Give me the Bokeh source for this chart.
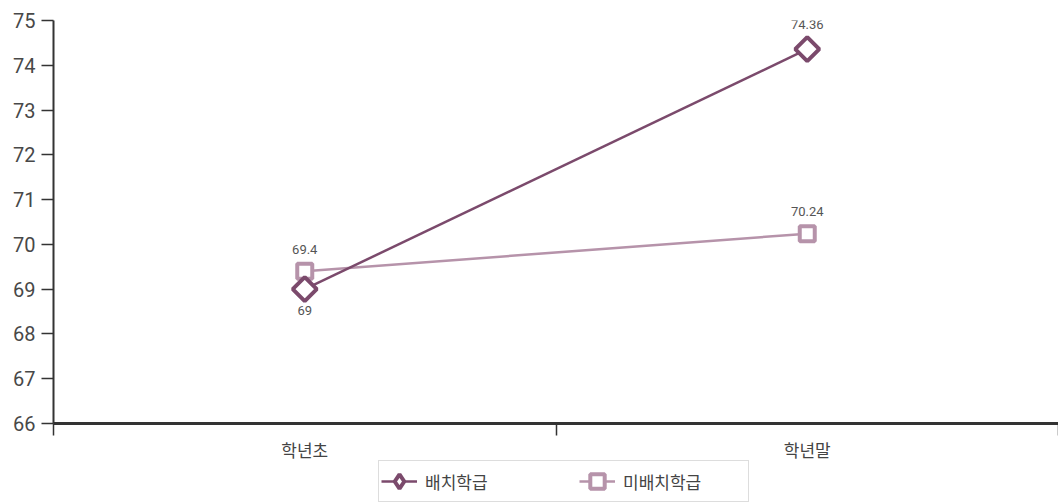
from bokeh.plotting import figure
from bokeh.layouts import column
from bokeh.models import (Range1d, FixedTicker, LinearAxis, Legend, LegendItem,
                          ColumnDataSource)
from bokeh.core.properties import value
from bokeh.embed import file_html
from bokeh.resources import INLINE
import math

categories = ["학년초", "학년말"]
series_names = ["배치학급", "미배치학급"]
placed = [69, 74.36]
unplaced = [69.4, 70.24]
placed_labels = ["69", "74.36"]
unplaced_labels = ["69.4", "70.24"]
y_ticks = [66, 67, 68, 69, 70, 71, 72, 73, 74, 75]

DARK = "#7b4a6c"
LIGHT = "#b693aa"
NUM_FONT = "Roboto"
KR_FONT = "Noto Sans CJK KR"

xr = Range1d(0, len(categories))
p = figure(width=1058, height=436, output_backend="svg", toolbar_location=None,
           x_range=xr, y_range=Range1d(66, 75),
           min_border_left=53, min_border_right=0, min_border_top=20,
           min_border_bottom=13, x_axis_type=None, y_axis_type=None)
p.outline_line_color = None
p.xgrid.visible = False
p.ygrid.visible = False

# y axis
yax = LinearAxis(ticker=FixedTicker(ticks=y_ticks))
yax.major_tick_out = 12
yax.major_tick_in = 0
yax.minor_tick_out = 0
yax.minor_tick_in = 0
yax.axis_line_color = "#333333"
yax.axis_line_width = 2
yax.major_tick_line_color = "#333333"
yax.major_tick_line_width = 1.5
yax.major_label_standoff = 6
yax.major_label_text_font = NUM_FONT
yax.major_label_text_font_size = "20px"
yax.major_label_text_color = "#484848"
p.add_layout(yax, "left")

# x axis: tick marks on category boundaries
bounds = list(range(len(categories) + 1))
xax = LinearAxis(ticker=FixedTicker(ticks=bounds))
xax.major_label_overrides = {b: "" for b in bounds}
xax.major_label_text_font_size = "0px"
xax.major_label_standoff = 0
xax.major_tick_out = 12
xax.major_tick_in = 0
xax.minor_tick_out = 0
xax.minor_tick_in = 0
xax.axis_line_color = "#333333"
xax.axis_line_width = 3
xax.major_tick_line_color = "#333333"
xax.major_tick_line_width = 1.5
p.add_layout(xax, "below")

xs = [i + 0.5 for i in range(len(categories))]
src_a = ColumnDataSource(dict(x=xs, y=placed, t=placed_labels, off=[21, -25]))
src_b = ColumnDataSource(dict(x=xs, y=unplaced, t=unplaced_labels, off=[-22, -22]))

p.line("x", "y", source=src_b, line_color=LIGHT, line_width=2.5)
p.scatter("x", "y", source=src_b, marker="square", size=15, line_color=LIGHT,
          line_width=4, fill_color="white")
p.line("x", "y", source=src_a, line_color=DARK, line_width=2.5)
p.scatter("x", "y", source=src_a, marker="square", angle=math.pi / 4, size=17,
          line_color=DARK, line_width=4, fill_color="white")

for src in (src_a, src_b):
    p.text("x", "y", text="t", source=src, y_offset="off", text_align="center",
           text_baseline="middle", text_font=value(NUM_FONT), text_font_size="13px",
           text_color="#555555")

# lower strip: category labels and legend
p2 = figure(width=1058, height=66, output_backend="svg", toolbar_location=None,
            x_range=xr, y_range=Range1d(1, 0),
            min_border_left=53, min_border_right=0, min_border_top=0,
            min_border_bottom=0, x_axis_type=None, y_axis_type=None)
p2.outline_line_color = None
p2.xgrid.visible = False
p2.ygrid.visible = False

cat_src = ColumnDataSource(dict(x=xs, y=[0] * len(xs), t=categories))
p2.text("x", "y", text="t", source=cat_src, text_align="center", text_baseline="top",
        text_font=value(KR_FONT), text_font_size="17px", text_color="#444444")

# legend glyphs (their data lie outside this strip's visible range)
lb = p2.line("x", "y", source=src_b, line_color=LIGHT, line_width=2.5)
mb = p2.scatter("x", "y", source=src_b, marker="square", size=15, line_color=LIGHT,
                line_width=4, fill_color="white")
la = p2.line("x", "y", source=src_a, line_color=DARK, line_width=2.5)
ma = p2.scatter("x", "y", source=src_a, marker="diamond", size=17,
                line_color=DARK, line_width=4, fill_color="white")

legend = Legend(items=[LegendItem(label=series_names[0], renderers=[la, ma]),
                       LegendItem(label=series_names[1], renderers=[lb, mb])],
                location=(325, 0), orientation="horizontal")
legend.border_line_color = "#bbbbbb"
legend.border_line_width = 1.5
legend.background_fill_alpha = 1
legend.label_text_font = KR_FONT
legend.label_text_font_size = "17px"
legend.label_text_color = "#444444"
legend.glyph_width = 36
legend.glyph_height = 36
legend.label_standoff = 8
legend.label_width = 123
legend.label_height = 36
legend.padding = 2
legend.margin = 0
legend.spacing = 31
p2.add_layout(legend, "center")

layout = column(p, p2, spacing=0)
open("out.html", "w").write(file_html(layout, INLINE))
